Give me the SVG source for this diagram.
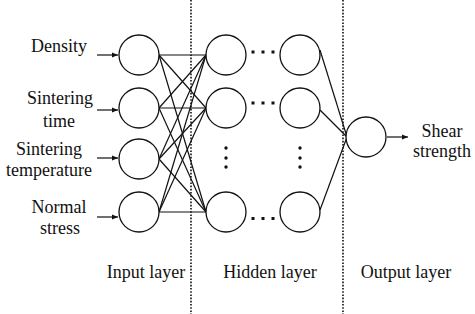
<svg xmlns="http://www.w3.org/2000/svg" width="475" height="314" viewBox="0 0 475 314">
<defs>
<marker id="ah" viewBox="0 0 10 10" refX="10" refY="5" markerWidth="6" markerHeight="6" orient="auto" markerUnits="userSpaceOnUse">
<path d="M0,1 L10,5 L0,9 z" fill="#111"/>
</marker>
<style>
.n{fill:#fff;stroke:#111;stroke-width:1.3}
.c{stroke:#111;stroke-width:1.2;fill:none}
.sep{stroke:#111;stroke-width:1.6;stroke-dasharray:1.6 1.6}
.d{fill:#111}
text{font-family:"Liberation Serif","Times New Roman",serif;font-size:18px;fill:#111;text-anchor:middle}
</style>
</defs>
<rect width="475" height="314" fill="#fff"/>
<line class="sep" x1="191" y1="0" x2="191" y2="314"/>
<line class="sep" x1="343" y1="0" x2="343" y2="314"/>
<g id="connectors">
<line class="c" x1="159" y1="55" x2="206" y2="55"/>
<line class="c" x1="159" y1="55" x2="206" y2="108"/>
<line class="c" x1="159" y1="55" x2="206" y2="212"/>
<line class="c" x1="159" y1="108" x2="206" y2="55"/>
<line class="c" x1="159" y1="108" x2="206" y2="108"/>
<line class="c" x1="159" y1="108" x2="206" y2="212"/>
<line class="c" x1="159" y1="159" x2="206" y2="55"/>
<line class="c" x1="159" y1="159" x2="206" y2="108"/>
<line class="c" x1="159" y1="159" x2="206" y2="212"/>
<line class="c" x1="159" y1="212" x2="206" y2="55"/>
<line class="c" x1="159" y1="212" x2="206" y2="108"/>
<line class="c" x1="159" y1="212" x2="206" y2="212"/>
<line class="c" x1="320" y1="50" x2="347" y2="137"/>
<line class="c" x1="320" y1="110" x2="347" y2="137"/>
<line class="c" x1="320" y1="210" x2="347" y2="137"/>
<line class="c" x1="97" y1="55" x2="118" y2="55" marker-end="url(#ah)"/>
<line class="c" x1="97" y1="110" x2="118" y2="110" marker-end="url(#ah)"/>
<line class="c" x1="97" y1="158" x2="118" y2="158" marker-end="url(#ah)"/>
<line class="c" x1="97" y1="217" x2="118" y2="217" marker-end="url(#ah)"/>
<line class="c" x1="387" y1="137" x2="408" y2="137" marker-end="url(#ah)"/>
</g>
<g id="in1"><circle class="n" cx="139" cy="55" r="20"/></g>
<g id="in2"><circle class="n" cx="139" cy="108" r="20"/></g>
<g id="in3"><circle class="n" cx="139" cy="159" r="20"/></g>
<g id="in4"><circle class="n" cx="139" cy="212" r="20"/></g>
<g id="h1a"><circle class="n" cx="226" cy="55" r="20"/></g>
<g id="h1b"><circle class="n" cx="226" cy="108" r="20"/></g>
<g id="h1c"><circle class="n" cx="226" cy="212" r="20"/></g>
<g id="h2a"><circle class="n" cx="300" cy="55" r="20"/></g>
<g id="h2b"><circle class="n" cx="300" cy="108" r="20"/></g>
<g id="h2c"><circle class="n" cx="300" cy="212" r="20"/></g>
<g id="out"><circle class="n" cx="366" cy="137" r="20"/></g>
<g id="dots">
<rect class="d" x="251.5" y="50.5" width="3" height="3"/>
<rect class="d" x="261.5" y="50.5" width="3" height="3"/>
<rect class="d" x="271.5" y="50.5" width="3" height="3"/>
<rect class="d" x="251.5" y="101.5" width="3" height="3"/>
<rect class="d" x="261.5" y="101.5" width="3" height="3"/>
<rect class="d" x="271.5" y="101.5" width="3" height="3"/>
<rect class="d" x="251.5" y="217" width="3" height="3"/>
<rect class="d" x="261.5" y="217" width="3" height="3"/>
<rect class="d" x="271.5" y="217" width="3" height="3"/>
<circle class="d" cx="226" cy="148" r="1.7"/>
<circle class="d" cx="226" cy="158" r="1.7"/>
<circle class="d" cx="226" cy="167" r="1.7"/>
<circle class="d" cx="300" cy="148" r="1.7"/>
<circle class="d" cx="300" cy="158" r="1.7"/>
<circle class="d" cx="300" cy="167" r="1.7"/>
</g>
<g id="labels">
<text x="59" y="52">Density</text>
<text x="60" y="104">Sintering</text>
<text x="59" y="127">time</text>
<text x="49" y="155">Sintering</text>
<text x="49" y="176">temperature</text>
<text x="59" y="213">Normal</text>
<text x="60" y="234">stress</text>
<text x="442" y="137">Shear</text>
<text x="442" y="157">strength</text>
<text x="146" y="278">Input layer</text>
<text x="270" y="278">Hidden layer</text>
<text x="406" y="278">Output layer</text>
</g>
</svg>
